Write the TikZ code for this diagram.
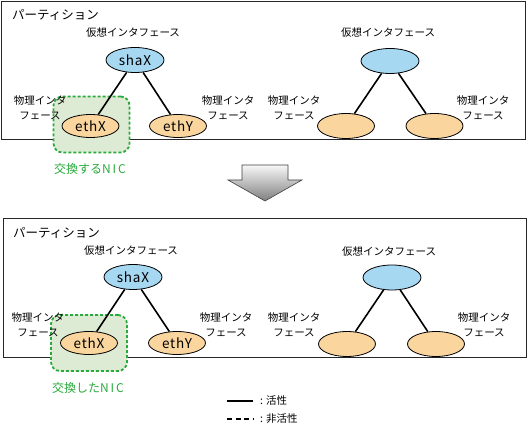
\documentclass[tikz,border=0pt]{standalone}
\usepackage{fontspec}
\setmainfont{Noto Sans CJK JP}
\newfontfamily\latinf[LetterSpace=6]{Noto Sans CJK JP}
\newfontfamily\nicf[LetterSpace=16]{Noto Sans CJK JP}
\usetikzlibrary{shapes.geometric}
\definecolor{vblue}{RGB}{166,216,242}
\definecolor{porange}{RGB}{250,214,158}
\definecolor{nfill}{RGB}{222,235,212}
\definecolor{ngreen}{RGB}{40,170,60}
\begin{document}
\begin{tikzpicture}[x=1pt,y=-1pt,
  part/.style={draw=black!85, line width=0.8pt},
  virt/.style={ellipse, draw, line width=0.8pt, fill=vblue, minimum width=58pt, minimum height=25pt, inner sep=0pt, font=\latinf\fontsize{13.5}{13}\selectfont},
  phys/.style={ellipse, draw, line width=0.8pt, fill=porange, minimum width=57pt, minimum height=23pt, inner sep=0pt, font=\latinf\fontsize{13.5}{13}\selectfont},
  link/.style={line width=1.6pt},
  lbl/.style={font=\fontsize{10.5}{15}\selectfont, align=center, inner sep=0pt},
  title/.style={font=\fontsize{12.5}{13}\selectfont, inner sep=0pt, anchor=west},
  nicbox/.style={draw=ngreen, fill=nfill, line width=1.8pt, dash pattern=on 3pt off 2pt, rounded corners=9pt, minimum width=76pt, minimum height=56pt, inner sep=0pt},
  nictext/.style={font=\fontsize{12}{12}\selectfont, text=ngreen, inner sep=0pt},
  legtext/.style={font=\fontsize{10.5}{12}\selectfont, inner sep=0pt, anchor=west},
  ]
\useasboundingbox (0,0) rectangle (528,427);

% ---------- top partition ----------
\node[part, minimum width=524pt, minimum height=138pt, inner sep=0pt] (p1) at (263,70) {};
\node[title] (t1) at (12,15) {パーティション};
\node[nicbox] (nic1) at (91.5,124.5) {};
\node[nictext] (n1) at (90,169) {交換する{\nicf NIC}};

\node[lbl] (v1l) at (133,33) {仮想インタフェース};
\node[virt] (shaX1) at (135,60) {shaX};
\node[phys] (ethX1) at (90.5,126) {ethX};
\node[phys] (ethY1) at (178,126) {ethY};
\draw[link] (shaX1) -- (ethX1);
\draw[link] (shaX1) -- (ethY1);
\node[lbl] (pl1) at (40,107.5) {物理インタ\\フェース};
\node[lbl] (pr1) at (228,107.5) {物理インタ\\フェース};

\node[lbl] (v2l) at (388,33) {仮想インタフェース};
\node[virt] (v2) at (390,61) {};
\node[phys, minimum height=25pt] (a2) at (346,126) {};
\node[phys, minimum height=25pt] (b2) at (434.5,126) {};
\draw[link] (v2) -- (a2);
\draw[link] (v2) -- (b2);
\node[lbl] (pl2) at (294,107.5) {物理インタ\\フェース};
\node[lbl] (pr2) at (483,107.5) {物理インタ\\フェース};

% ---------- arrow ----------
\shade[top color=gray!6, bottom color=black!50, draw=black!75, line width=0.6pt]
  (242,165) -- (288,165) -- (288,180) -- (302,180) -- (265,201) -- (228,180) -- (242,180) -- cycle;

% ---------- bottom partition ----------
\node[part, minimum width=523pt, minimum height=139pt, inner sep=0pt] (p3) at (264.5,287.5) {};
\node[title] (t3) at (13,233) {パーティション};
\node[nicbox] (nic3) at (89,343) {};
\node[nictext] (n3) at (88,388) {交換した{\nicf NIC}};

\node[lbl] (v3l) at (131,251) {仮想インタフェース};
\node[virt] (shaX3) at (133,277) {shaX};
\node[phys] (ethX3) at (89,343) {ethX};
\node[phys] (ethY3) at (177,343) {ethY};
\draw[link] (shaX3) -- (ethX3);
\draw[link] (shaX3) -- (ethY3);
\node[lbl] (pl3) at (38,325) {物理インタ\\フェース};
\node[lbl] (pr3) at (226,325) {物理インタ\\フェース};

\node[lbl] (v4l) at (389,252) {仮想インタフェース};
\node[virt] (v4) at (392,277.5) {};
\node[phys, minimum height=25pt] (a4) at (347,344) {};
\node[phys, minimum height=25pt] (b4) at (436,344) {};
\draw[link] (v4) -- (a4);
\draw[link] (v4) -- (b4);
\node[lbl] (pl4) at (294,325) {物理インタ\\フェース};
\node[lbl] (pr4) at (484,325) {物理インタ\\フェース};

% ---------- legend ----------
\coordinate (s1) at (227,401);
\coordinate (s2) at (253,401);
\coordinate (d1) at (227,419);
\coordinate (d2) at (253,419);
\draw[line width=1.6pt] (s1) -- (s2);
\draw[line width=1.6pt, dash pattern=on 5pt off 3.5pt] (d1) -- (d2);
\node[legtext] (lg1) at (260,401) {: 活性};
\node[legtext] (lg2) at (260,419) {: 非活性};
\end{tikzpicture}
\end{document}
